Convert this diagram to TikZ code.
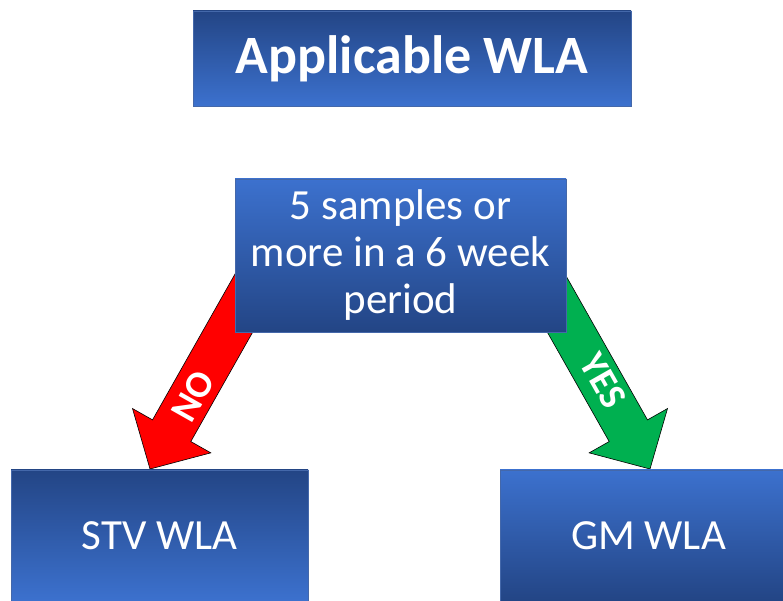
\documentclass[tikz,border=0pt]{standalone}
\usepackage{fontspec}
\setmainfont{Carlito}
\definecolor{bdark}{RGB}{35,69,133}
\definecolor{blight}{RGB}{60,113,206}
\definecolor{bedge}{RGB}{68,104,170}
\definecolor{arrgreen}{RGB}{0,176,80}
\begin{document}
\begin{tikzpicture}[x=1pt,y=1pt,
  box/.style={draw=bedge, line width=0.8pt, inner sep=0pt, text=white, align=center},
  darktop/.style={box, top color=bdark, bottom color=blight},
  lighttop/.style={box, top color=blight, bottom color=bdark},
  blockarrow/.style={draw=black, line width=0.6pt, line join=miter},
  lbl/.style={text=white, font=\fontsize{38}{38}\selectfont\bfseries, inner sep=0pt}]
\useasboundingbox (0,0) rectangle (783,601);
% block arrows
\coordinate (notip) at (150,132);
\coordinate (yestip) at (650,132);
\begin{scope}[shift={(notip)}, rotate=240.5]
  \draw[blockarrow, fill=red] (0,0) -- (-44,45) -- (-44,22) -- (-215,22) -- (-215,-22) -- (-44,-22) -- (-44,-45) -- cycle;
\end{scope}
\begin{scope}[shift={(yestip)}, rotate=299.5]
  \draw[blockarrow, fill=arrgreen] (0,0) -- (-44,45) -- (-44,22) -- (-215,22) -- (-215,-22) -- (-44,-22) -- (-44,-45) -- cycle;
\end{scope}
\node[lbl, rotate=60.5] (nolbl) at (193,205) {NO};
\node[lbl, rotate=-60.5] (yeslbl) at (603,220) {YES};
% boxes
\node[darktop, minimum width=438pt, minimum height=95pt, font=\fontsize{54}{60}\selectfont\bfseries] (title) at (412,542.5) {Applicable WLA};
\node[lighttop, minimum width=331pt, minimum height=153pt, font=\fontsize{43}{47}\selectfont] (cond) at (400.5,345.5) {5 samples or\\more in a 6 week\\period};
\node[darktop, minimum width=297pt, minimum height=131pt, font=\fontsize{43}{47}\selectfont] (stv) at (159.5,65.5) {STV WLA};
\node[lighttop, minimum width=297pt, minimum height=131pt, font=\fontsize{43}{47}\selectfont] (gm) at (648.5,65.5) {GM WLA};
\end{tikzpicture}
\end{document}
